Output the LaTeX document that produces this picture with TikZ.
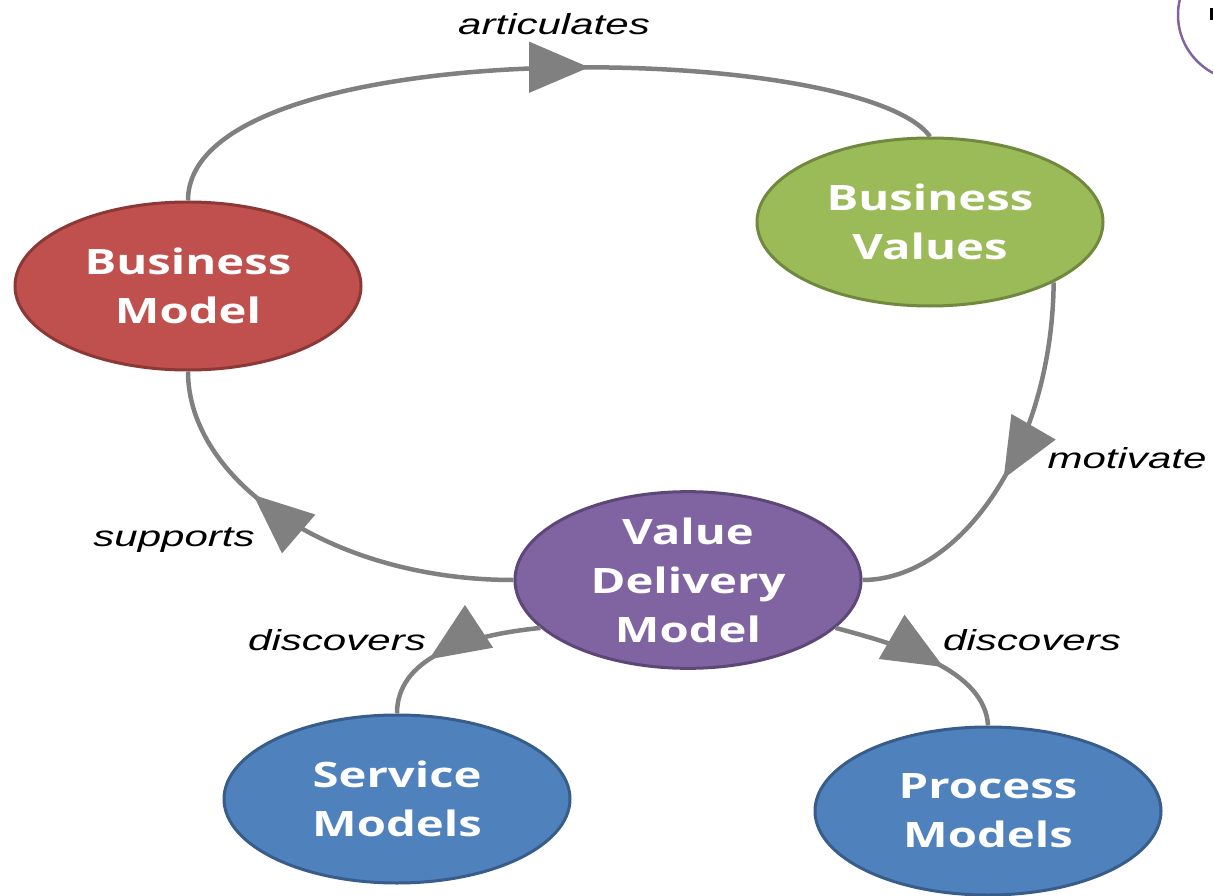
\documentclass[tikz,border=0pt]{standalone}
\usepackage{fontspec}
\usepackage{graphicx}
\usetikzlibrary{arrows.meta,shapes.geometric,decorations.markings}
\newfontfamily\nodefont{Open Sans}
\newfontfamily\lblfont{Liberation Sans}
\definecolor{bmred}{HTML}{C0504D}
\definecolor{bmredline}{HTML}{8C3836}
\definecolor{bvgreen}{HTML}{9BBB59}
\definecolor{bvgreenline}{HTML}{71893F}
\definecolor{vdpurple}{HTML}{8064A2}
\definecolor{vdpurpleline}{HTML}{5C4776}
\definecolor{smblue}{HTML}{4F81BD}
\definecolor{smblueline}{HTML}{385D8A}
\definecolor{linegray}{HTML}{808080}
\newcommand*{\wide}[2][1.35]{\scalebox{#1}[1]{#2}}
\tikzset{
  model/.style={ellipse, draw, line width=3pt, minimum width=346pt,
    minimum height=168pt, inner sep=0pt, text=white, align=center,
    font=\nodefont\bfseries\fontsize{35}{49}\selectfont},
  rel/.style={draw=linegray, color=linegray, line width=4.5pt,
    postaction={decorate}, decoration={markings,
      mark=at position #1 with {\arrow{Triangle[length=60pt,width=50pt]}}}},
  lbl/.style={anchor=base, font=\lblfont\itshape\fontsize{29}{34}\selectfont}
}

\begin{document}
\begin{tikzpicture}[x=1pt,y=1pt]
\useasboundingbox (0,0) rectangle (1213,-896);
% the five models
\node[model, fill=bmred, draw=bmredline] (BM) at (188,-286) {\wide{Business}\\\wide{Model}};
\node[model, fill=bvgreen, draw=bvgreenline] (BV) at (930,-222) {\wide{Business}\\\wide{Values}};
\node[model, fill=vdpurple, draw=vdpurpleline] (VDM) at (688,-580) {\wide{Value}\\\wide{Delivery}\\\wide{Model}};
\node[model, fill=smblue, draw=smblueline] (SM) at (397,-799) {\wide{Service}\\\wide{Models}};
\node[model, fill=smblue, draw=smblueline] (PM) at (988,-811) {\wide{Process}\\\wide{Models}};
% relations
\draw[rel=0.56] (BM.north) .. controls (188,-30) and (860,-40) .. (BV.north);
\draw[rel=0.53] (BV.-26) .. controls (1052,-450) and (960,-580) .. (VDM.east);
\draw[rel=0.66] (VDM.west) .. controls (330,-580) and (188,-480) .. (BM.south);
\draw[rel=0.64] (VDM.198) .. controls (460,-636) and (397,-660) .. (SM.north);
\draw[rel=0.6] (VDM.-18) .. controls (900,-645) and (985,-670) .. (PM.north);
\node[lbl] (art) at (554,-35) {\wide[1.45]{articulates}};
\node[lbl] (mot) at (1127,-468) {\wide[1.45]{motivate}};
\node[lbl] (sup) at (174,-546) {\wide[1.45]{supports}};
\node[lbl] (dsl) at (337,-650) {\wide[1.45]{discovers}};
\node[lbl] (dsr) at (1032,-650) {\wide[1.45]{discovers}};
% cut-off shape at the corner
\draw[vdpurple, line width=2.5pt] (1245,-15) ellipse [x radius=67, y radius=66];
\fill (1210,-8) rectangle (1213,-20);
\end{tikzpicture}
\end{document}
